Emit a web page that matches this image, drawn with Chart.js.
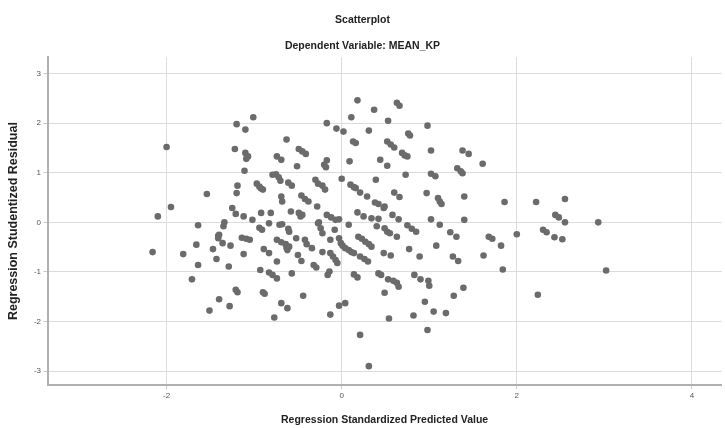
<!DOCTYPE html>
<html>
<head>
<meta charset="utf-8">
<script src="https://cdn.jsdelivr.net/npm/chart.js@4.4.1/dist/chart.umd.min.js"></script>
<style>
html, body { margin: 0; padding: 0; background: #fff; }
#wrap { width: 725px; height: 428px; }
</style>
</head>
<body>
<div id="wrap"><canvas id="scatter"></canvas></div>
<script>
// valores (x = predicho estandarizado, y = residuo studentizado)
const predicted = [
    -2.00, -1.54, -1.95, -2.10, -1.64, -2.16, -1.66, -1.81, -1.41, -1.47, -1.43, -1.64, -1.71, -1.40, -1.51,
    0.18, -1.01, -1.20, -1.10, -0.17, -0.06, 0.02, 0.11, -0.63, 0.13, 0.16, -1.22, -1.10, -1.07, -1.09,
    -0.49, -0.45, -0.41, -0.74, -0.69, -0.51, -0.17, -0.20, -0.18, 0.09, -1.11, -0.79, -0.75, -0.72, -0.70,
    -0.61, -0.57, -0.30, -0.27, -0.22, -0.19, 0.00, 0.10, 0.16, -1.19, -1.20, -0.97, -0.94, -0.90, -0.92,
    -0.69, -0.68, -0.46, -0.42, -0.38, -0.28, -1.25, -1.21, -1.12, -0.92, -0.81, -1.02, -0.58, -0.49, -0.47,
    -0.45, -0.17, -0.12, -0.07, -0.03, -1.34, -0.26,
    -1.35, -0.83, -0.71, -0.68, -0.61, -0.60, -0.94, -0.91, -0.27, -0.24, -0.22, -0.08, 0.08, -1.40, -1.41,
    -1.14, -1.09, -1.05, -1.36, -1.27, -0.74, -0.69, -0.64, -0.63, -0.60, -0.62, -0.52, -0.42, -0.40, -0.34,
    -0.13, -0.03, -0.01, 0.01, 0.04, 0.08, 0.11, -1.12, -0.89, -0.83, -0.74, -0.50, -0.46, -0.22, -0.13,
    -0.10, -0.07, -0.05, -1.29, -0.93, -0.83, -0.79, -0.74, -0.57, -0.32, -0.29, -0.16, -0.14, -1.21, -1.19,
    -0.90, -0.88, -1.28, -0.44, -0.69, -0.62, -0.77, -0.13, -0.03, 0.04, 0.21,
    0.63, 0.66, 0.37, 0.53, 0.98, 0.31, 0.76, 0.78, 0.52, 0.56, 0.60, 1.02, 1.38, 1.45, 1.61,
    0.69, 0.72, 0.75, 0.44, 0.52, 0.73, 1.02, 1.07, 1.32, 1.36, 1.38, 0.14, 0.21, 0.29, 0.39,
    0.60, 0.66, 0.97, 1.10, 1.12, 1.14, 1.40, 0.38, 0.42, 0.49, 0.48, 0.18, 0.25, 0.34, 0.42,
    0.58, 0.65, 1.02, 1.40,
    0.40, 0.49, 0.52, 0.55, 0.63, 0.75, 0.80, 0.85, 1.12, 1.24, 1.31, 1.08, 1.68, 1.72, 0.14,
    0.19, 0.23, 0.27, 0.31, 0.34, 0.21, 0.26, 0.30, 0.48, 0.56, 0.77, 0.89, 1.27, 1.33, 1.62,
    0.14, 0.18, 0.42, 0.45, 0.53, 0.59, 0.63, 0.65, 0.83, 0.90, 0.99, 1.00, 0.49, 1.39, 1.28,
    0.95, 1.05, 1.19, 0.82, 0.54, 0.98, 0.31,
    1.86, 2.22, 2.55, 2.44, 2.48, 2.55, 2.93, 1.82, 2.00, 2.30, 2.34, 2.43, 2.52, 1.84, 3.02, 2.24
]
const residual = [
    1.52, 0.57, 0.31, 0.12, -0.06, -0.60, -0.45, -0.64, -0.27, -0.54, -0.74, -0.86, -1.15, -1.55, -1.78,
    2.46, 2.12, 1.98, 1.87, 2.00, 1.89, 1.83, 2.12, 1.67, 1.63, 1.60, 1.48, 1.40, 1.33, 1.28,
    1.48, 1.43, 1.38, 1.33, 1.26, 1.13, 1.25, 1.16, 1.11, 1.23, 1.04, 0.96, 0.97, 0.91, 0.84,
    0.80, 0.74, 0.86, 0.78, 0.74, 0.66, 0.88, 0.76, 0.69, 0.74, 0.59, 0.78, 0.72, 0.66, 0.68,
    0.52, 0.42, 0.54, 0.47, 0.42, 0.32, 0.29, 0.17, 0.12, 0.19, 0.19, 0.05, 0.22, 0.19, 0.12,
    0.15, 0.15, 0.10, 0.05, 0.06, 0.00, 0.00,
    -0.08, -0.02, -0.05, -0.04, -0.13, -0.19, -0.11, -0.15, -0.02, -0.12, -0.22, -0.15, -0.05, -0.25, -0.32,
    -0.31, -0.33, -0.35, -0.42, -0.47, -0.35, -0.40, -0.44, -0.51, -0.49, -0.56, -0.32, -0.35, -0.44, -0.52,
    -0.35, -0.32, -0.42, -0.47, -0.52, -0.56, -0.60, -0.64, -0.54, -0.62, -0.79, -0.66, -0.78, -0.60, -0.62,
    -0.69, -0.76, -0.82, -0.89, -0.96, -1.01, -1.06, -1.13, -1.03, -0.86, -0.91, -1.06, -0.99, -1.36, -1.41,
    -1.41, -1.44, -1.69, -1.48, -1.63, -1.73, -1.92, -1.86, -1.68, -1.63, -2.27,
    2.41, 2.35, 2.27, 2.05, 1.95, 1.85, 1.79, 1.75, 1.63, 1.57, 1.51, 1.45, 1.45, 1.38, 1.18,
    1.40, 1.35, 1.33, 1.26, 1.14, 0.96, 0.98, 0.93, 1.09, 1.03, 0.99, 0.71, 0.60, 0.52, 0.86,
    0.60, 0.51, 0.59, 0.49, 0.42, 0.37, 0.52, 0.40, 0.37, 0.32, 0.29, 0.20, 0.12, 0.08, 0.07,
    0.15, 0.06, 0.06, 0.05,
    -0.08, -0.12, -0.19, -0.22, -0.29, -0.06, -0.13, -0.19, -0.05, -0.20, -0.29, -0.47, -0.29, -0.33, -0.62,
    -0.29, -0.33, -0.39, -0.44, -0.49, -0.69, -0.74, -0.79, -0.62, -0.67, -0.54, -0.69, -0.69, -0.78, -0.67,
    -1.05, -1.11, -1.03, -1.06, -1.15, -1.18, -1.22, -1.30, -1.06, -1.15, -1.18, -1.28, -1.42, -1.32, -1.48,
    -1.60, -1.80, -1.83, -1.88, -1.94, -2.17, -2.90,
    0.41, 0.41, 0.47, 0.15, 0.10, 0.00, 0.00, -0.47, -0.24, -0.15, -0.20, -0.30, -0.34, -0.95, -0.97, -1.46
]
const xTicks = [-2, 0, 2, 4]
const yTicks = [-3, -2, -1, 0, 1, 2, 3]

const sans = '"Liberation Sans", Arial, sans-serif'
const textColor = '#222'

const setTicks = list => scale => { scale.ticks = list.map(v => ({ value: v })) }

const printChart = () => {
    new Chart('scatter', {
        type: 'scatter',
        data: {
            datasets: [{
                data: predicted.map((x, i) => ({ x: x, y: residual[i] })),
                backgroundColor: '#6b6b6b',
                borderWidth: 0,
                pointRadius: 3.3,
                pointHoverRadius: 3.3
            }]
        },
        options: {
            responsive: true,
            maintainAspectRatio: false,
            animation: false,
            events: [],
            layout: { padding: 0 },
            plugins: {
                legend: { display: false },
                tooltip: { enabled: false },
                title: {
                    display: true,
                    text: 'Scatterplot',
                    color: textColor,
                    font: { family: sans, size: 10.5, weight: 'bold' },
                    padding: { top: 14, bottom: 3 }
                },
                subtitle: {
                    display: true,
                    text: 'Dependent Variable: MEAN_KP',
                    color: textColor,
                    font: { family: sans, size: 10.5, weight: 'bold' },
                    padding: { top: 10, bottom: 5 }
                }
            },
            scales: {
                x: {
                    type: 'linear',
                    min: -3.36,
                    max: 4.34,
                    afterBuildTicks: setTicks(xTicks),
                    afterFit: s => { s.height = 43 },
                    grid: { color: '#dcdcdc', tickLength: 4, tickColor: '#c8c8c8' },
                    border: { color: '#b0b0b0', width: 2 },
                    ticks: { font: { family: sans, size: 8 }, color: '#555', padding: 2, maxRotation: 0 },
                    title: {
                        display: true,
                        text: 'Regression Standardized Predicted Value',
                        color: textColor,
                        font: { family: sans, size: 10.5, weight: 'bold' },
                        padding: { top: 0, bottom: 2 }
                    }
                },
                y: {
                    type: 'linear',
                    min: -3.28,
                    max: 3.33,
                    afterBuildTicks: setTicks(yTicks),
                    afterFit: s => { s.width = 47.5 },
                    grid: { color: '#dcdcdc', tickLength: 4, tickColor: '#c8c8c8' },
                    border: { color: '#b0b0b0', width: 2 },
                    ticks: { font: { family: sans, size: 8 }, color: '#555', padding: 2.5 },
                    title: {
                        display: true,
                        text: 'Regression Studentized Residual',
                        color: textColor,
                        font: { family: sans, size: 12.5, weight: 'bold' },
                        padding: { top: 6, bottom: 0 }
                    }
                }
            }
        }
    })
}

printChart()
</script>
</body>
</html>
